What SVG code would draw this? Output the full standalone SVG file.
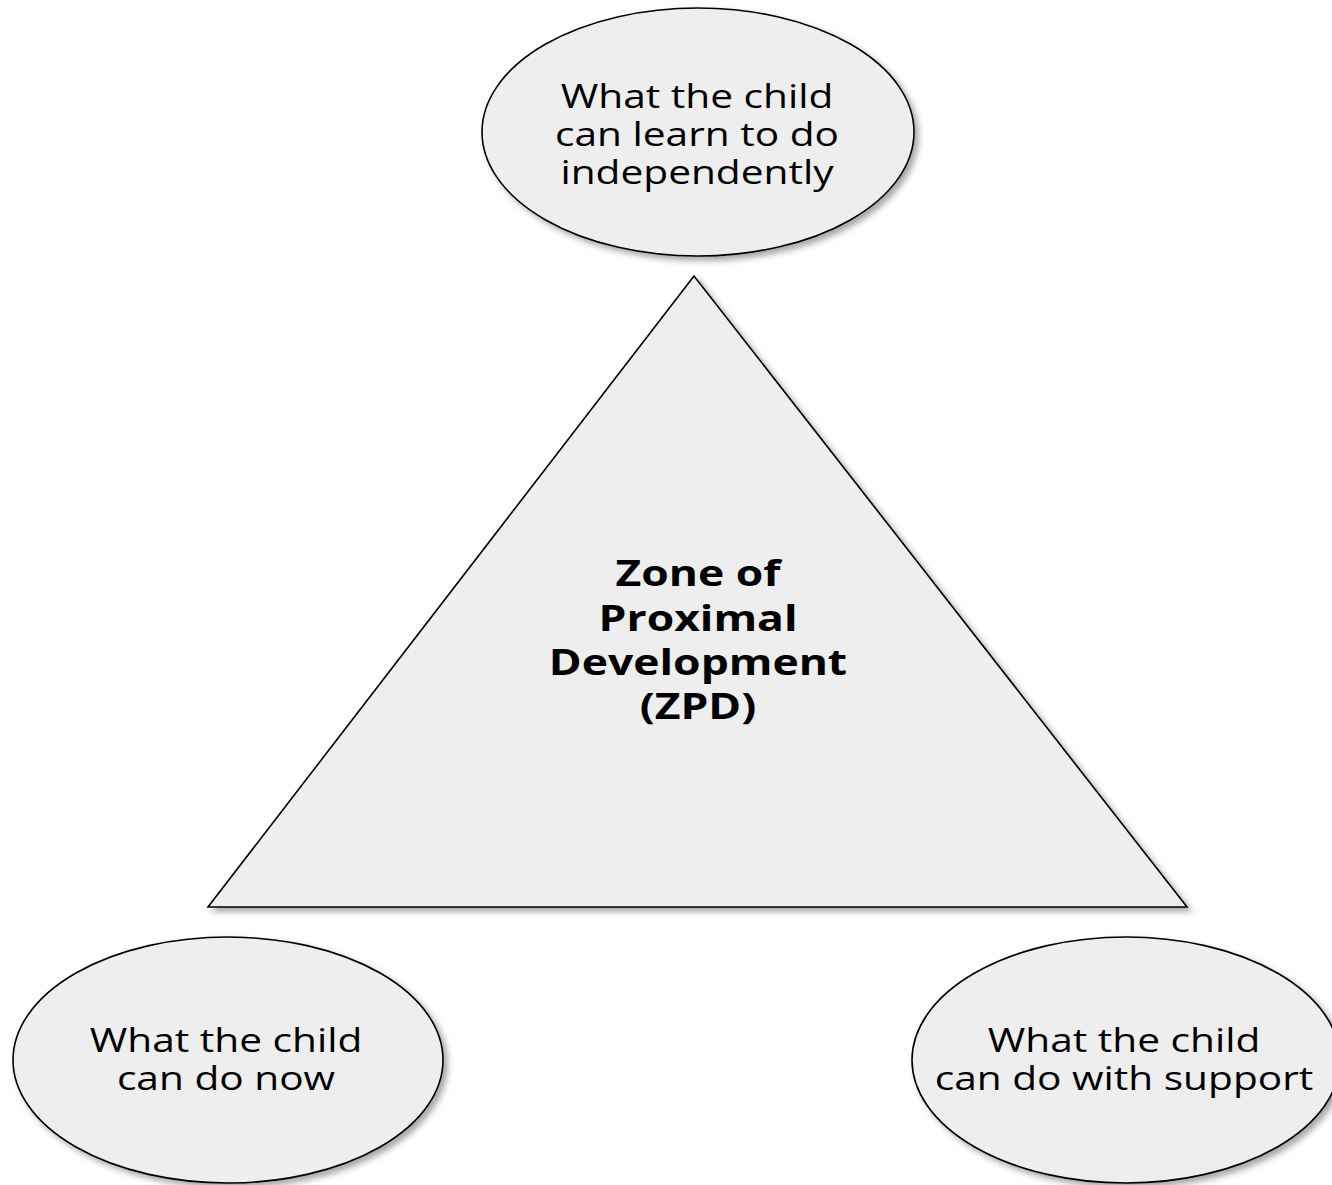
<svg xmlns="http://www.w3.org/2000/svg" width="1332" height="1185" viewBox="0 0 1332 1185">
<defs>
<filter id="sh" x="-10%" y="-10%" width="125%" height="125%">
<feDropShadow dx="4" dy="4" stdDeviation="3" flood-color="#000" flood-opacity="0.35"/>
</filter>
</defs>
<style>
.shape{fill:#eeeeee;stroke:#000;stroke-width:1.6;filter:url(#sh)}
.t{font-family:"Open Sans","Noto Sans","Liberation Sans",sans-serif;font-size:32px;fill:#000;text-anchor:middle}
.b{font-weight:bold;font-size:35px}
</style>
<rect width="1332" height="1185" fill="#fff"/>
<g id="connectors"></g>
<g id="zpd">
<polygon class="shape" points="694,276 208,907 1187,907"/>
<g transform="translate(698,0) scale(1.27,1)">
<text class="t b" x="0" y="586">Zone of</text>
<text class="t b" x="0" y="631">Proximal</text>
<text class="t b" x="0" y="675">Development</text>
<text class="t b" x="0" y="719">(ZPD)</text>
</g>
</g>
<g id="independent">
<ellipse class="shape" cx="698" cy="132" rx="216" ry="124"/>
<g transform="translate(697,0) scale(1.27,1)">
<text class="t" x="0" y="108">What the child</text>
<text class="t" x="0" y="146">can learn to do</text>
<text class="t" x="0" y="184">independently</text>
</g>
</g>
<g id="now">
<ellipse class="shape" cx="228" cy="1060" rx="215" ry="123"/>
<g transform="translate(226,0) scale(1.27,1)">
<text class="t" x="0" y="1052">What the child</text>
<text class="t" x="0" y="1090">can do now</text>
</g>
</g>
<g id="support">
<ellipse class="shape" cx="1126" cy="1060" rx="214" ry="123"/>
<g transform="translate(1124,0) scale(1.27,1)">
<text class="t" x="0" y="1052">What the child</text>
<text class="t" x="0" y="1090">can do with support</text>
</g>
</g>
</svg>
